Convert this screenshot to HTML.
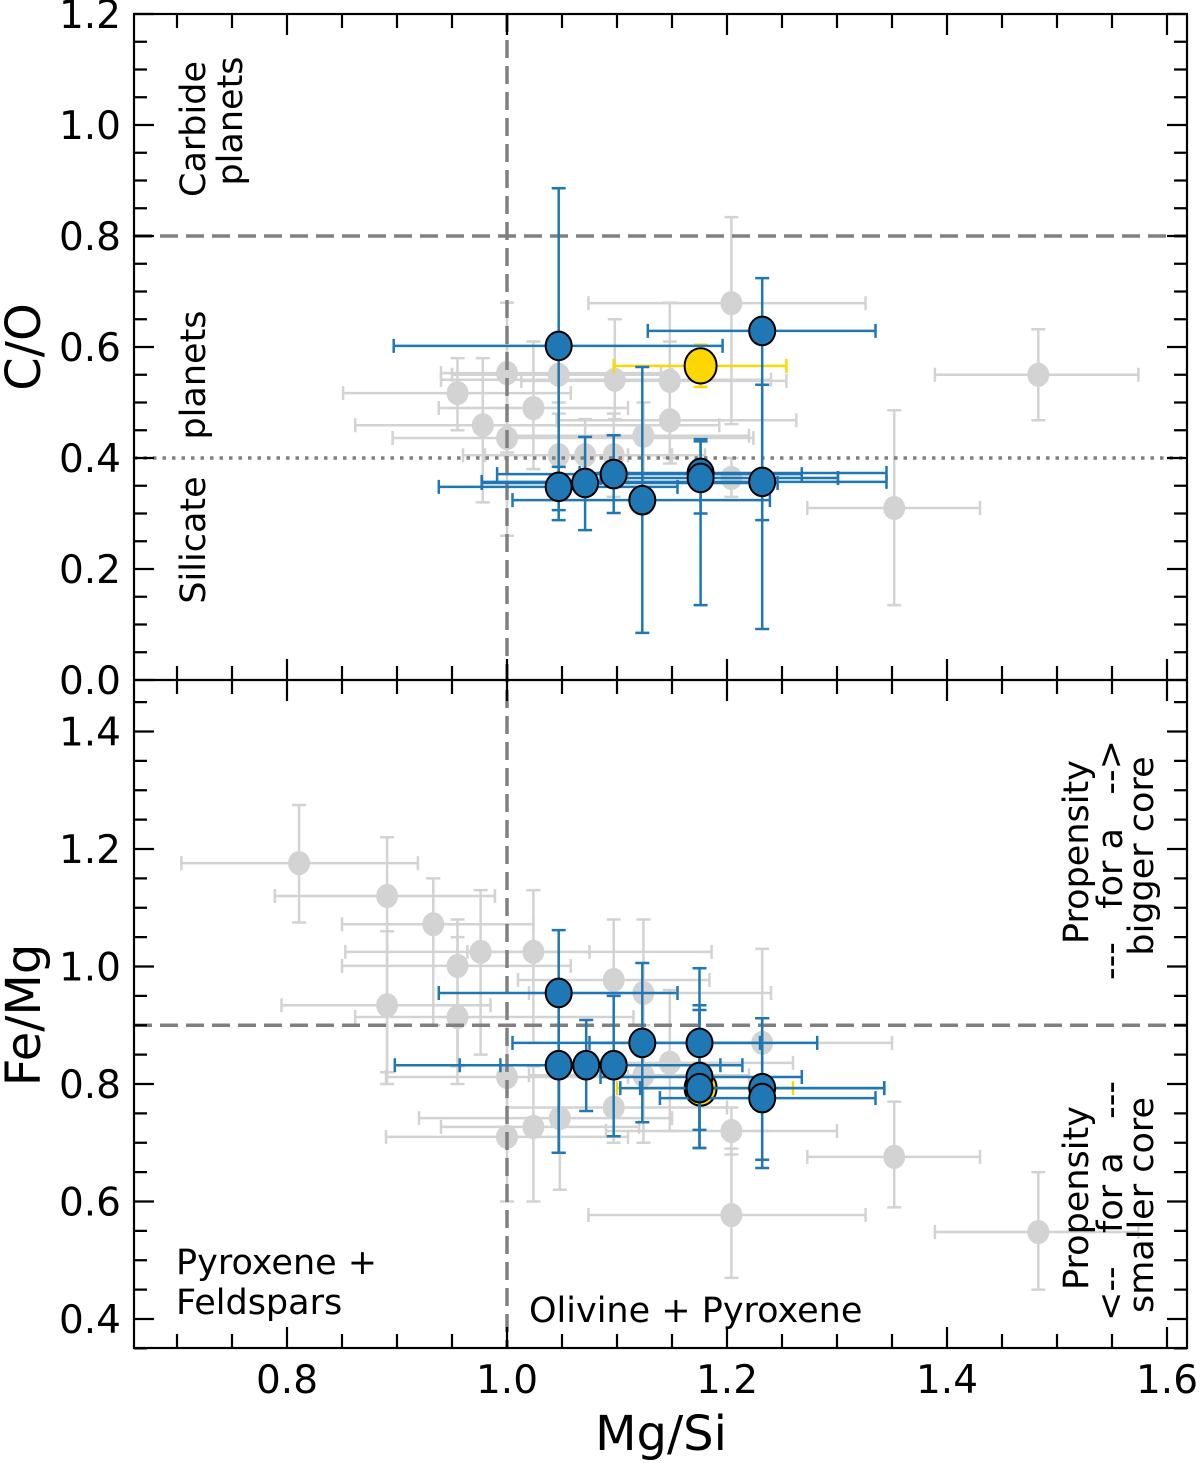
<!DOCTYPE html>
<html><head><meta charset="utf-8"><style>
html,body{margin:0;padding:0;background:#fff;}
svg{display:block;font-family:"DejaVu Sans","Liberation Sans",sans-serif;}
</style></head><body>
<svg id="chart" width="1200" height="1463" viewBox="0 0 1200 1463" xmlns="http://www.w3.org/2000/svg">
<g id="grey"></g>
<g id="refs"></g>
<g id="blue"></g>
<g id="axes"></g>
<text x="205" y="129" font-size="35" text-anchor="middle" transform="rotate(-90 205 129)">Carbide</text>
<text x="242" y="121" font-size="35" text-anchor="middle" transform="rotate(-90 242 121)">planets</text>
<text x="205" y="375" font-size="35" text-anchor="middle" transform="rotate(-90 205 375)">planets</text>
<text x="205" y="540" font-size="35" text-anchor="middle" transform="rotate(-90 205 540)">Silicate</text>
<text x="1088" y="852" font-size="35" text-anchor="middle" transform="rotate(-90 1088 852)">Propensity</text>
<text x="1122" y="860" font-size="35" text-anchor="middle" transform="rotate(-90 1122 860)" xml:space="preserve">---   for a   --&gt;</text>
<text x="1153" y="856" font-size="35" text-anchor="middle" transform="rotate(-90 1153 856)">bigger core</text>
<text x="1088" y="1198" font-size="35" text-anchor="middle" transform="rotate(-90 1088 1198)">Propensity</text>
<text x="1122" y="1201" font-size="35" text-anchor="middle" transform="rotate(-90 1122 1201)" xml:space="preserve">&lt;--   for a   ---</text>
<text x="1153" y="1205" font-size="35" text-anchor="middle" transform="rotate(-90 1153 1205)">smaller core</text>
<text x="176" y="1274" font-size="35">Pyroxene +</text>
<text x="176" y="1314" font-size="35">Feldspars</text>
<text x="529" y="1322" font-size="35">Olivine + Pyroxene</text>
<text x="40" y="347" font-size="48" text-anchor="middle" transform="rotate(-90 40 347)">C/O</text>
<text x="40" y="1015" font-size="48" text-anchor="middle" transform="rotate(-90 40 1015)">Fe/Mg</text>
<text x="661" y="1450" font-size="48" text-anchor="middle">Mg/Si</text>
</svg>
<script>
// ---- top panel: blue sample
const topBlueX   = [1.047,1.232,1.047,1.071,1.097,1.123,1.176,1.176,1.232];
const topBlueXlo = [0.897,1.128,0.938,0.977,0.991,1.005,1.066,1.085,0.977];
const topBlueXhi = [1.196,1.335,1.155,1.246,1.268,1.239,1.345,1.301,1.345];
const topBlueY   = [0.602,0.629,0.348,0.355,0.371,0.324,0.373,0.364,0.357];
const topBlueYlo = [0.288,0.288,0.306,0.270,0.301,0.085,0.135,0.300,0.092];
const topBlueYhi = [0.886,0.724,0.384,0.438,0.441,0.564,0.434,0.430,0.532];
// ---- top panel: grey comparison
const topGreyX   = [1.204,1.483,1.352,0.955,1.000,1.024,0.978,1.000,1.098,1.148,1.148,1.124,1.047,1.071,1.097,1.204,1.047];
const topGreyXlo = [1.074,1.389,1.273,0.851,0.940,0.938,0.862,0.896,0.940,1.013,1.045,1.000,0.960,0.980,1.000,1.110,0.950];
const topGreyXhi = [1.326,1.574,1.430,1.058,1.140,1.110,1.193,1.224,1.240,1.254,1.263,1.220,1.110,1.150,1.180,1.300,1.150];
const topGreyY   = [0.679,0.550,0.310,0.517,0.553,0.490,0.459,0.436,0.541,0.539,0.468,0.440,0.405,0.405,0.405,0.364,0.550];
const topGreyYlo = [0.461,0.468,0.135,0.450,0.410,0.380,0.320,0.260,0.470,0.400,0.390,0.300,0.330,0.340,0.330,0.330,0.500];
const topGreyYhi = [0.834,0.632,0.486,0.580,0.680,0.610,0.580,0.560,0.650,0.680,0.610,0.500,0.480,0.470,0.480,0.400,0.600];
const topStarX = [1.176], topStarXlo=[1.097], topStarXhi=[1.254];
const topStarY = [0.566], topStarYlo=[0.528], topStarYhi=[0.604];
// ---- bottom panel: blue sample
const botBlueX   = [1.047,1.047,1.072,1.097,1.123,1.175,1.175,1.175,1.232,1.232];
const botBlueXlo = [0.938,0.898,0.957,0.994,1.005,1.075,1.085,1.103,1.121,1.139];
const botBlueXhi = [1.155,1.175,1.194,1.214,1.230,1.282,1.268,1.343,1.343,1.335];
const botBlueY   = [0.955,0.832,0.832,0.832,0.870,0.870,0.812,0.793,0.793,0.776];
const botBlueYlo = [0.683,0.683,0.754,0.711,0.735,0.691,0.691,0.722,0.657,0.671];
const botBlueYhi = [1.062,0.943,0.909,0.950,1.006,0.997,0.934,0.926,0.912,0.912];
// ---- bottom panel: grey comparison
const botGreyX   = [0.811,0.891,0.933,0.976,0.955,1.024,0.891,0.955,1.097,1.124,1.000,1.000,1.024,1.048,1.148,1.124,1.204,1.204,1.352,1.483,1.232,1.097];
const botGreyXlo = [0.704,0.789,0.850,0.853,0.850,0.964,0.795,0.862,1.010,1.020,0.890,0.890,0.940,0.920,1.040,1.020,1.090,1.074,1.273,1.389,1.120,1.000];
const botGreyXhi = [0.919,0.989,1.024,1.075,1.058,1.186,0.985,1.115,1.184,1.240,1.110,1.110,1.120,1.150,1.260,1.220,1.300,1.326,1.430,1.574,1.350,1.200];
const botGreyY   = [1.176,1.120,1.072,1.025,1.001,1.025,0.934,0.914,0.977,0.955,0.812,0.710,0.727,0.742,0.836,0.815,0.720,0.577,0.676,0.548,0.870,0.760];
const botGreyYlo = [1.075,0.820,0.900,0.850,0.830,0.870,0.800,0.800,0.870,0.820,0.700,0.600,0.600,0.620,0.720,0.700,0.680,0.470,0.590,0.450,0.720,0.700];
const botGreyYhi = [1.275,1.220,1.150,1.130,1.080,1.130,1.060,1.050,1.080,1.080,0.900,0.800,0.830,0.850,0.960,0.900,0.760,0.690,0.770,0.650,1.030,0.850];
const botStarX = [1.176], botStarXlo=[1.100], botStarXhi=[1.260];
const botStarY = [0.793], botStarYlo=[0.770], botStarYhi=[0.820];
const xTicks = [0.8,1.0,1.2,1.4,1.6];
const topTicks = [0.0,0.2,0.4,0.6,0.8,1.0,1.2];
const botTicks = [0.4,0.6,0.8,1.0,1.2,1.4];

const L=134,R=1187,T=14,M=680,B=1348;
const sx=v=>287+(v-0.8)*1100;
const syT=v=>680-v*555;
const syB=v=>1084-(v-0.8)*587.5;
const NS="http://www.w3.org/2000/svg";
function mk(tag,attrs,parent){const e=document.createElementNS(NS,tag);for(const k in attrs)e.setAttribute(k,attrs[k]);parent.appendChild(e);return e;}
function series(g,sy,X,Xlo,Xhi,Y,Ylo,Yhi,color,r,fill,stroke,name){
  for(let i=0;i<X.length;i++){
    const cx=sx(X[i]),cy=sy(Y[i]);
    const eb=mk('path',{d:`M${sx(Xlo[i])},${cy}H${sx(Xhi[i])}M${sx(Xlo[i])},${cy-7}v14M${sx(Xhi[i])},${cy-7}v14M${cx},${sy(Ylo[i])}V${sy(Yhi[i])}M${cx-7},${sy(Ylo[i])}h14M${cx-7},${sy(Yhi[i])}h14`,stroke:color,'stroke-width':2.5,fill:'none'},g);
    
    
  }
  for(let i=0;i<X.length;i++){
    const c=mk('ellipse',{cx:sx(X[i]),cy:sy(Y[i]),rx:r,ry:r*1.1,fill:fill,stroke:stroke,'stroke-width':stroke==='none'?0:2},g);
    
    
  }
}
const grey=document.getElementById('grey'),blue=document.getElementById('blue');
series(grey,syT,topGreyX,topGreyXlo,topGreyXhi,topGreyY,topGreyYlo,topGreyYhi,'#d3d3d3',11,'#d3d3d3','none','grey-co');
series(grey,syB,botGreyX,botGreyXlo,botGreyXhi,botGreyY,botGreyYlo,botGreyYhi,'#d3d3d3',11,'#d3d3d3','none','grey-femg');
series(blue,syT,topStarX,topStarXlo,topStarXhi,topStarY,topStarYlo,topStarYhi,'#ffd700',16,'#ffd700','#000','yellow-co');
series(blue,syT,topBlueX,topBlueXlo,topBlueXhi,topBlueY,topBlueYlo,topBlueYhi,'#1f77b4',13,'#1f77b4','#000','blue-co');
series(blue,syB,botStarX,botStarXlo,botStarXhi,botStarY,botStarYlo,botStarYhi,'#ffd700',16,'#ffd700','#000','yellow-femg');
series(blue,syB,botBlueX,botBlueXlo,botBlueXhi,botBlueY,botBlueYlo,botBlueYhi,'#1f77b4',13,'#1f77b4','#000','blue-femg');

const refs=document.getElementById('refs');
let e;
e=mk('line',{x1:sx(1.0),x2:sx(1.0),y1:T,y2:B,stroke:'#808080','stroke-width':3.5,'stroke-dasharray':'18 8'},refs);


e=mk('line',{x1:L,x2:R,y1:syT(0.8),y2:syT(0.8),stroke:'#808080','stroke-width':3.5,'stroke-dasharray':'18 8'},refs);


e=mk('line',{x1:L,x2:R,y1:syT(0.4),y2:syT(0.4),stroke:'#808080','stroke-width':3.5,'stroke-dasharray':'3.5 6'},refs);


e=mk('line',{x1:L,x2:R,y1:syB(0.9),y2:syB(0.9),stroke:'#808080','stroke-width':3.5,'stroke-dasharray':'18 8'},refs);



const ax=document.getElementById('axes');
let d='';
function xt(v,len){const x=sx(v);d+=`M${x},${T}v${len}M${x},${M}v${-len}M${x},${M}v${len}M${x},${B}v${-len}`;}
for(let k=0;k<=20;k++){const v=Math.round((0.65+k*0.05)*100)/100;if(v<0.66||v>1.62)continue;const maj=Math.abs(v*5-Math.round(v*5))<1e-6;xt(v,maj?21:14);}
for(let k=0;k<=24;k++){const v=k*0.05;const y=syT(v);const maj=Math.abs(v*5-Math.round(v*5))<1e-6;const l=maj?20:13;if(y<T-1)continue;d+=`M${L},${y}h${l}M${R},${y}h${-l}`;}
for(let k=0;k<=24;k++){const v=0.35+k*0.05;const y=syB(v);if(y>B+1||y<M+1)continue;const maj=Math.abs(v*5-Math.round(v*5))<1e-6;const l=maj?20:13;d+=`M${L},${y}h${l}M${R},${y}h${-l}`;}
e=mk('path',{d:d,stroke:'#000','stroke-width':2.2,fill:'none'},ax);


e=mk('rect',{x:L,y:T,width:R-L,height:B-T,fill:'none',stroke:'#000','stroke-width':2.2},ax);


e=mk('line',{x1:L,x2:R,y1:M,y2:M,stroke:'#000','stroke-width':2.2},ax);


function lbl(x,y,t,anchor,name){const el=mk('text',{x:x,y:y,'font-size':39,'text-anchor':anchor},ax);el.textContent=t;}
xTicks.forEach(v=>lbl(sx(v),1393,v.toFixed(1),'middle','x-tick-label'));
topTicks.forEach(v=>lbl(121,syT(v)+14,v.toFixed(1),'end','y-tick-label-co'));
botTicks.forEach(v=>lbl(121,syB(v)+14,v.toFixed(1),'end','y-tick-label-femg'));
</script>
</body></html>
